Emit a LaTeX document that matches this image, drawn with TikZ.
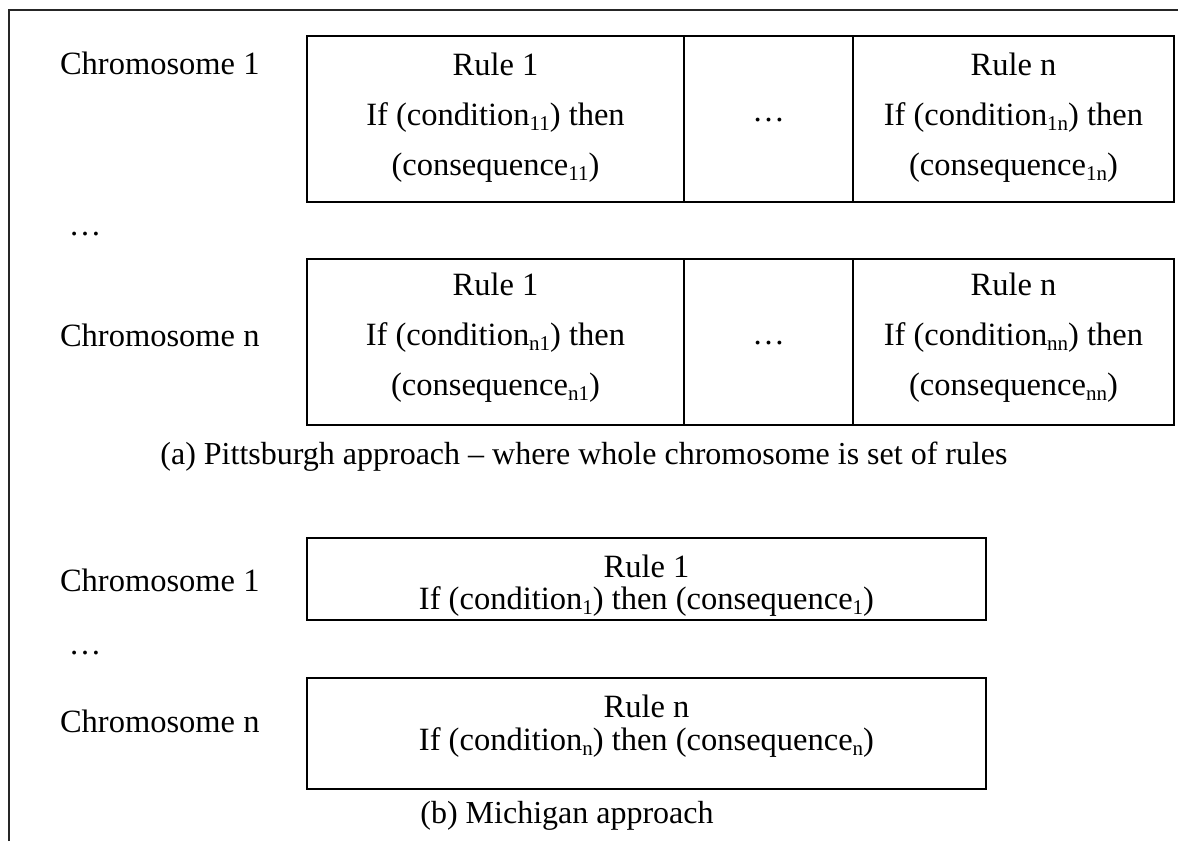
\documentclass[tikz,border=0pt]{standalone}
\usepackage{fontspec}
\setmainfont{Liberation Serif}
\newcommand\subidx[1]{\raisebox{-0.16em}{\fontsize{21}{21}\selectfont #1}}
\begin{document}
\fontsize{32.5}{39}\selectfont
\begin{tikzpicture}[x=1pt,y=-1pt,
  frame/.style={draw=black!85,line width=2pt},
  cell/.style={draw=black,line width=2.6pt,inner sep=0pt,outer sep=0pt},
  txt/.style={anchor=base,inner sep=0pt,outer sep=0pt},
  lbl/.style={anchor=base west,inner sep=0pt,outer sep=0pt},
  captxt/.style={anchor=base,inner sep=0pt,outer sep=0pt,font=\fontsize{32}{38}\selectfont}]
\useasboundingbox (0,0) rectangle (1178,841);

% outer frame (top and left sides)
\coordinate (fbl) at (9,841);
\coordinate (ftl) at (9,10);
\coordinate (ftr) at (1178,10);
\draw[frame] (fbl) -- (ftl) -- (ftr);

% ---------- (a) Pittsburgh approach ----------
% chromosome 1
\node[cell,minimum width=377,minimum height=166] (p1a) at (495.5,119) {};
\node[cell,minimum width=169,minimum height=166] (p1b) at (768.5,119) {};
\node[cell,minimum width=321,minimum height=166] (p1c) at (1013.5,119) {};
\node[lbl] (c1a) at (60,74) {Chromosome 1};
\node[txt] (p1a1) at (495.5,75) {Rule 1};
\node[txt] (p1a2) at (495.5,125) {If (condition\subidx{11}) then};
\node[txt] (p1a3) at (495.5,175) {(consequence\subidx{11})};
\node[txt] (p1b1) at (768.5,121) {…};
\node[txt] (p1c1) at (1013.5,75) {Rule n};
\node[txt] (p1c2) at (1013.5,125) {If (condition\subidx{1n}) then};
\node[txt] (p1c3) at (1013.5,175) {(consequence\subidx{1n})};

\node[txt] (dotsa) at (85,235) {…};

% chromosome n
\node[cell,minimum width=377,minimum height=166] (pna) at (495.5,342) {};
\node[cell,minimum width=169,minimum height=166] (pnb) at (768.5,342) {};
\node[cell,minimum width=321,minimum height=166] (pnc) at (1013.5,342) {};
\node[lbl] (cna) at (60,346) {Chromosome n};
\node[txt] (pna1) at (495.5,295) {Rule 1};
\node[txt] (pna2) at (495.5,345) {If (condition\subidx{n1}) then};
\node[txt] (pna3) at (495.5,395) {(consequence\subidx{n1})};
\node[txt] (pnb1) at (768.5,344) {…};
\node[txt] (pnc1) at (1013.5,295) {Rule n};
\node[txt] (pnc2) at (1013.5,345) {If (condition\subidx{nn}) then};
\node[txt] (pnc3) at (1013.5,395) {(consequence\subidx{nn})};

\node[captxt] (capa) at (584,464) {(a) Pittsburgh approach – where whole chromosome is set of rules};

% ---------- (b) Michigan approach ----------
\node[cell,minimum width=679,minimum height=82] (m1) at (646.5,579) {};
\node[lbl] (c1b) at (60,591) {Chromosome 1};
\node[txt] (m11) at (646.5,577) {Rule 1};
\node[txt] (m12) at (646.5,609) {If (condition\subidx{1}) then (consequence\subidx{1})};

\node[txt] (dotsb) at (85,654) {…};

\node[cell,minimum width=679,minimum height=111] (mn) at (646.5,733.5) {};
\node[lbl] (cnb) at (60,732) {Chromosome n};
\node[txt] (mn1) at (646.5,717) {Rule n};
\node[txt] (mn2) at (646.5,750) {If (condition\subidx{n}) then (consequence\subidx{n})};

\node[captxt] (capb) at (567,823) {(b) Michigan approach};
\end{tikzpicture}
\end{document}
